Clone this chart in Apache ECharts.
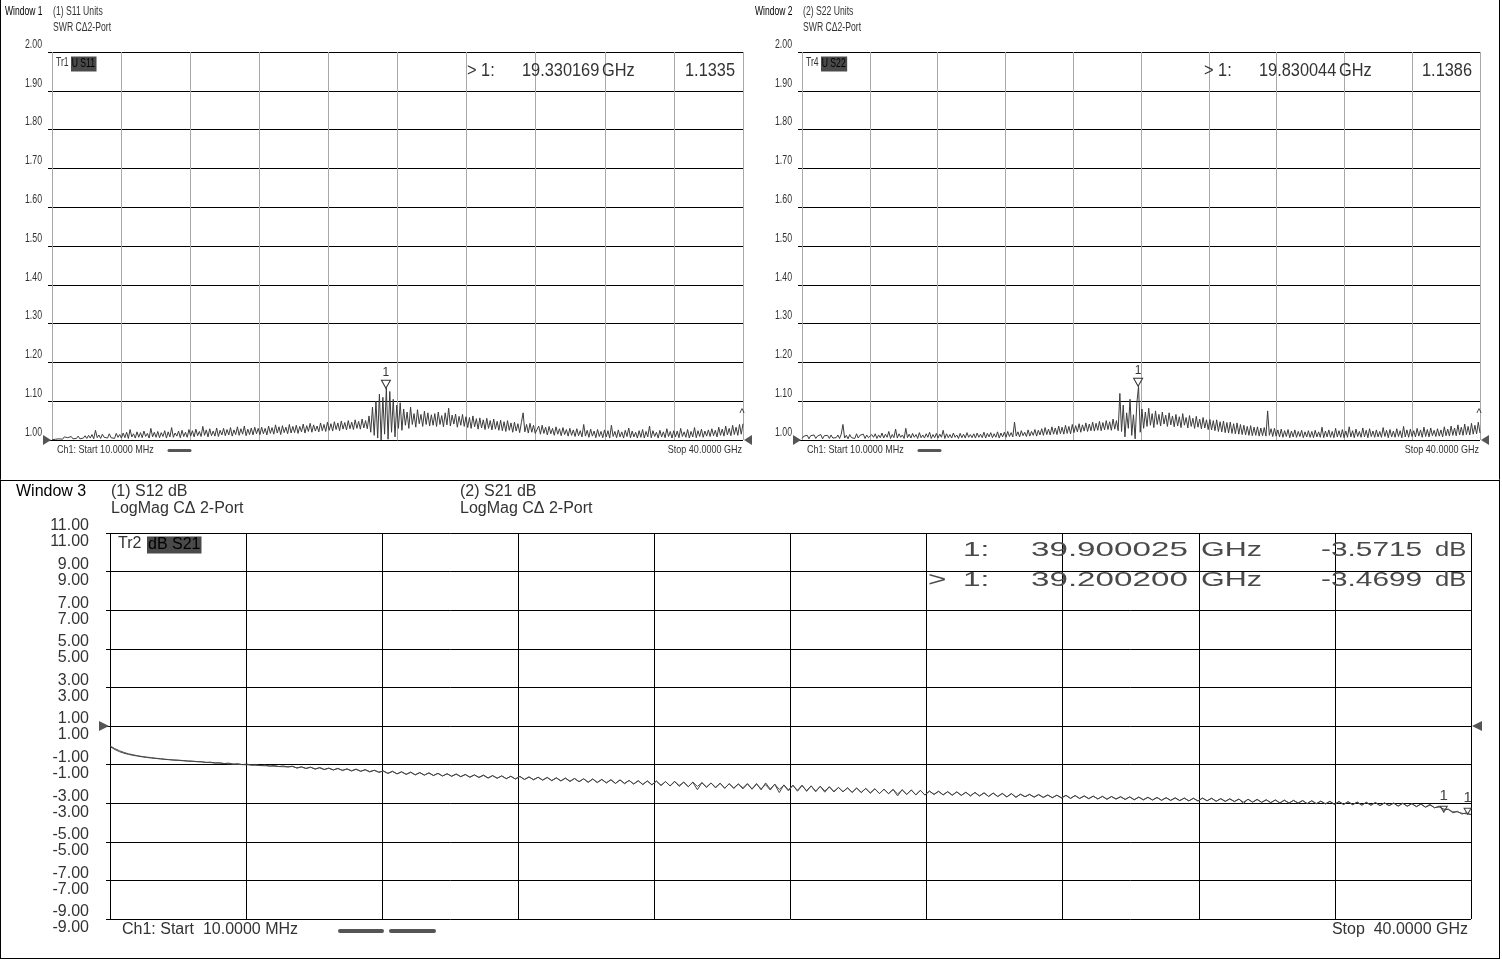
<!DOCTYPE html>
<html><head><meta charset="utf-8">
<script src="https://cdn.jsdelivr.net/npm/echarts@6/dist/echarts.min.js"></script>
<style>html,body{margin:0;padding:0;background:#fff}#c{width:1502px;height:960px}</style>
</head><body><div id="c"></div>
<script>
const FREQ_START_GHZ = 0.01;
const FREQ_STOP_GHZ = 40;

// Window 1: S11 SWR (20 points per 2 GHz row)
const s11Swr = [
1.001,1.006,1.002,1.007,1.003,1.005,1.002,1.008,1.003,1.006,1.004,1.009,1.003,1.007,1.004,1.010,1.003,1.008,1.005,1.011,
1.004,1.012,1.005,1.014,1.003,1.025,1.006,1.013,1.004,1.015,1.007,1.012,1.005,1.016,1.006,1.011,1.004,1.017,1.007,1.014,
1.005,1.018,1.006,1.020,1.004,1.027,1.008,1.016,1.005,1.021,1.007,1.019,1.006,1.023,1.009,1.017,1.005,1.030,1.008,1.020,
1.007,1.022,1.006,1.019,1.009,1.024,1.005,1.021,1.008,1.032,1.007,1.018,1.010,1.023,1.006,1.025,1.009,1.020,1.007,1.027,
1.010,1.024,1.008,1.028,1.011,1.022,1.009,1.035,1.012,1.026,1.008,1.029,1.011,1.023,1.010,1.031,1.009,1.025,1.013,1.030,
1.011,1.027,1.013,1.032,1.010,1.026,1.014,1.034,1.012,1.029,1.015,1.036,1.011,1.028,1.014,1.031,1.013,1.033,1.016,1.030,
1.014,1.033,1.016,1.030,1.013,1.036,1.017,1.032,1.015,1.039,1.018,1.034,1.014,1.037,1.019,1.033,1.016,1.040,1.018,1.035,
1.019,1.038,1.017,1.035,1.021,1.041,1.018,1.037,1.022,1.043,1.020,1.039,1.023,1.036,1.021,1.044,1.024,1.040,1.022,1.046,
1.025,1.042,1.023,1.047,1.027,1.044,1.024,1.049,1.028,1.045,1.026,1.050,1.029,1.046,1.027,1.052,1.030,1.048,1.028,1.054,
1.031,1.050,1.029,1.062,1.020,1.085,1.012,1.100,1.005,1.118,1.000,1.110,1.015,1.134,1.002,1.125,1.020,1.105,1.008,1.090,
1.030,1.096,1.025,1.080,1.038,1.072,1.030,1.085,1.040,1.068,1.033,1.078,1.042,1.066,1.035,1.074,1.040,1.070,1.036,1.065,
1.038,1.068,1.035,1.072,1.040,1.063,1.034,1.070,1.039,1.082,1.036,1.064,1.041,1.067,1.033,1.061,1.038,1.066,1.035,1.060,
1.032,1.058,1.030,1.062,1.034,1.055,1.028,1.057,1.031,1.052,1.027,1.056,1.030,1.050,1.026,1.054,1.028,1.048,1.025,1.051,
1.024,1.047,1.022,1.050,1.025,1.044,1.020,1.046,1.023,1.042,1.019,1.045,1.070,1.021,1.040,1.018,1.043,1.020,1.038,1.017,
1.019,1.036,1.015,1.038,1.017,1.033,1.013,1.035,1.016,1.030,1.012,1.034,1.015,1.029,1.011,1.032,1.014,1.027,1.010,1.030,
1.012,1.026,1.009,1.029,1.011,1.024,1.008,1.040,1.010,1.025,1.007,1.028,1.010,1.023,1.006,1.027,1.009,1.022,1.006,1.026,
1.008,1.024,1.005,1.038,1.009,1.022,1.006,1.026,1.008,1.021,1.005,1.025,1.009,1.031,1.006,1.023,1.008,1.020,1.005,1.024,
1.007,1.027,1.005,1.022,1.008,1.036,1.006,1.024,1.009,1.020,1.005,1.025,1.008,1.021,1.006,1.029,1.009,1.022,1.005,1.024,
1.008,1.023,1.006,1.030,1.009,1.021,1.007,1.027,1.005,1.022,1.008,1.032,1.006,1.024,1.009,1.028,1.007,1.023,1.010,1.026,
1.009,1.029,1.011,1.025,1.008,1.033,1.012,1.028,1.010,1.036,1.013,1.030,1.011,1.038,1.014,1.033,1.012,1.040,1.015,1.042
];

// Window 2: S22 SWR
const s22Swr = [
1.004,1.010,1.005,1.012,1.003,1.011,1.006,1.013,1.004,1.010,1.005,1.014,1.003,1.011,1.006,1.012,1.004,1.013,1.005,1.010,
1.006,1.013,1.004,1.015,1.040,1.005,1.012,1.003,1.014,1.006,1.011,1.004,1.016,1.005,1.012,1.007,1.015,1.004,1.013,1.006,
1.005,1.014,1.007,1.016,1.004,1.013,1.006,1.018,1.005,1.015,1.007,1.022,1.004,1.014,1.006,1.028,1.005,1.016,1.007,1.013,
1.004,1.030,1.006,1.015,1.005,1.017,1.007,1.014,1.004,1.019,1.006,1.013,1.005,1.016,1.007,1.020,1.004,1.014,1.006,1.017,
1.005,1.015,1.007,1.025,1.004,1.016,1.006,1.014,1.005,1.018,1.007,1.013,1.004,1.017,1.006,1.015,1.005,1.019,1.007,1.014,
1.006,1.016,1.005,1.018,1.007,1.015,1.006,1.020,1.005,1.017,1.008,1.019,1.006,1.016,1.007,1.021,1.005,1.018,1.008,1.020,
1.007,1.022,1.009,1.019,1.008,1.046,1.010,1.021,1.008,1.024,1.011,1.020,1.009,1.026,1.010,1.022,1.012,1.027,1.010,1.025,
1.013,1.029,1.012,1.032,1.014,1.028,1.013,1.034,1.015,1.031,1.014,1.036,1.016,1.033,1.015,1.038,1.017,1.035,1.016,1.040,
1.019,1.037,1.021,1.042,1.020,1.039,1.023,1.044,1.022,1.041,1.024,1.046,1.023,1.043,1.025,1.048,1.024,1.045,1.026,1.050,
1.027,1.047,1.025,1.054,1.028,1.050,1.024,1.120,1.022,1.090,1.008,1.070,1.030,1.105,1.012,1.065,1.003,1.095,1.138,1.020,
1.080,1.030,1.072,1.035,1.082,1.038,1.068,1.032,1.075,1.040,1.066,1.036,1.072,1.041,1.064,1.035,1.070,1.039,1.062,1.034,
1.066,1.036,1.060,1.032,1.068,1.038,1.058,1.031,1.063,1.035,1.056,1.030,1.061,1.033,1.054,1.029,1.058,1.031,1.052,1.027,
1.053,1.026,1.050,1.024,1.052,1.022,1.047,1.021,1.049,1.019,1.045,1.018,1.046,1.017,1.042,1.016,1.044,1.015,1.040,1.014,
1.038,1.013,1.035,1.012,1.037,1.011,1.033,1.012,1.034,1.010,1.031,1.011,1.032,1.010,1.075,1.012,1.029,1.009,1.030,1.010,
1.026,1.008,1.028,1.007,1.024,1.009,1.027,1.006,1.023,1.008,1.026,1.007,1.022,1.009,1.025,1.006,1.021,1.008,1.024,1.007,
1.022,1.006,1.025,1.008,1.021,1.007,1.033,1.006,1.023,1.008,1.026,1.007,1.022,1.006,1.030,1.008,1.024,1.007,1.027,1.006,
1.023,1.007,1.034,1.008,1.024,1.006,1.028,1.009,1.022,1.007,1.031,1.008,1.025,1.006,1.029,1.009,1.023,1.007,1.026,1.008,
1.022,1.007,1.032,1.009,1.025,1.006,1.027,1.008,1.023,1.007,1.029,1.009,1.024,1.006,1.035,1.008,1.026,1.007,1.028,1.009,
1.024,1.008,1.030,1.010,1.026,1.007,1.033,1.009,1.027,1.008,1.031,1.011,1.025,1.009,1.029,1.010,1.026,1.008,1.034,1.011,
1.028,1.010,1.036,1.012,1.031,1.011,1.039,1.013,1.033,1.012,1.041,1.014,1.035,1.013,1.043,1.015,1.038,1.016,1.046,1.018
];

// Window 3: S21 / S12 dB (20 points per row)
const s21Db = [
-0.08,-0.22,-0.33,-0.41,-0.47,-0.52,-0.56,-0.60,-0.63,-0.66,-0.68,-0.71,-0.73,-0.75,-0.77,-0.78,-0.80,-0.82,-0.83,-0.85,
-0.85,-0.89,-0.87,-0.92,-0.90,-0.95,-0.92,-0.98,-0.95,-1.00,-0.97,-1.03,-1.00,-1.05,-1.02,-1.08,-1.04,-1.10,-1.07,-1.12,
-1.08,-1.18,-1.11,-1.20,-1.13,-1.24,-1.15,-1.25,-1.18,-1.28,-1.19,-1.31,-1.22,-1.32,-1.23,-1.35,-1.26,-1.38,-1.29,-1.40,
-1.33,-1.45,-1.34,-1.48,-1.37,-1.50,-1.39,-1.53,-1.41,-1.55,-1.42,-1.56,-1.45,-1.59,-1.47,-1.61,-1.48,-1.62,-1.51,-1.66,
-1.53,-1.66,-1.54,-1.69,-1.57,-1.71,-1.58,-1.73,-1.60,-1.75,-1.61,-1.77,-1.64,-1.79,-1.65,-1.80,-1.66,-1.84,-1.68,-1.85,
-1.70,-1.86,-1.72,-1.89,-1.73,-1.91,-1.74,-1.93,-1.77,-1.95,-1.78,-1.97,-1.79,-1.99,-1.82,-2.01,-1.83,-2.04,-1.84,-2.05,
-1.85,-2.07,-1.88,-2.10,-1.86,-2.13,-1.90,-2.14,-1.92,-2.30,-1.93,-2.16,-1.95,-2.21,-1.96,-2.23,-1.99,-2.21,-2.00,-2.26,
-2.00,-2.26,-1.98,-2.31,-1.95,-2.27,-2.02,-2.45,-2.05,-2.31,-2.07,-2.38,-2.09,-2.35,-2.10,-2.41,-2.12,-2.37,-2.15,-2.42,
-2.18,-2.40,-2.20,-2.44,-2.21,-2.45,-2.23,-2.48,-2.25,-2.50,-2.27,-2.51,-2.29,-2.62,-2.30,-2.55,-2.31,-2.57,-2.33,-2.58,
-2.37,-2.54,-2.38,-2.57,-2.40,-2.58,-2.41,-2.60,-2.43,-2.62,-2.44,-2.63,-2.46,-2.65,-2.47,-2.66,-2.49,-2.67,-2.50,-2.70,
-2.53,-2.66,-2.54,-2.68,-2.55,-2.70,-2.57,-2.71,-2.58,-2.72,-2.59,-2.75,-2.60,-2.75,-2.62,-2.76,-2.63,-2.78,-2.64,-2.79,
-2.65,-2.78,-2.66,-2.80,-2.67,-2.82,-2.68,-2.82,-2.69,-2.83,-2.70,-2.85,-2.71,-2.85,-2.72,-2.86,-2.73,-2.88,-2.74,-2.88,
-2.73,-2.87,-2.74,-2.90,-2.76,-2.90,-2.77,-2.91,-2.78,-3.02,-2.79,-2.94,-2.80,-2.95,-2.82,-2.97,-2.83,-2.98,-2.84,-2.99,
-2.85,-2.99,-2.86,-3.02,-2.87,-3.02,-2.89,-3.03,-2.90,-3.06,-2.91,-3.06,-2.92,-3.07,-2.94,-3.10,-2.95,-3.10,-2.96,-3.12,
-2.98,-3.12,-2.99,-3.15,-3.00,-3.15,-3.02,-3.17,-3.04,-3.20,-3.06,-3.24,-3.15,-3.36,-3.30,-3.50,-3.42,-3.56,-3.50,-3.60
];
const s12Db = [
-0.04,-0.17,-0.28,-0.37,-0.44,-0.49,-0.54,-0.58,-0.61,-0.64,-0.67,-0.69,-0.72,-0.74,-0.76,-0.77,-0.79,-0.81,-0.82,-0.84,
-0.86,-0.88,-0.90,-0.91,-0.93,-0.94,-0.96,-0.97,-0.99,-1.00,-1.01,-1.02,-1.04,-1.05,-1.06,-1.07,-1.09,-1.10,-1.11,-1.12,
-1.10,-1.17,-1.13,-1.20,-1.14,-1.22,-1.17,-1.26,-1.19,-1.27,-1.21,-1.29,-1.23,-1.33,-1.25,-1.34,-1.27,-1.36,-1.30,-1.39,
-1.34,-1.46,-1.36,-1.48,-1.38,-1.51,-1.40,-1.53,-1.42,-1.54,-1.44,-1.57,-1.46,-1.59,-1.48,-1.60,-1.50,-1.63,-1.52,-1.64,
-1.54,-1.67,-1.56,-1.70,-1.57,-1.70,-1.59,-1.73,-1.61,-1.74,-1.62,-1.77,-1.64,-1.78,-1.66,-1.81,-1.67,-1.82,-1.69,-1.84,
-1.70,-1.88,-1.72,-1.88,-1.74,-1.92,-1.75,-1.92,-1.77,-1.94,-1.79,-1.98,-1.80,-1.97,-1.82,-2.00,-1.84,-2.02,-1.86,-2.04,
-1.86,-2.09,-1.88,-2.11,-1.89,-2.08,-1.92,-2.15,-1.90,-2.13,-1.94,-2.19,-1.96,-2.17,-1.97,-2.22,-1.99,-2.24,-2.01,-2.20,
-1.98,-2.28,-2.02,-2.25,-2.04,-2.32,-2.01,-2.29,-2.07,-2.36,-2.08,-2.33,-2.06,-2.39,-2.11,-2.37,-2.13,-2.43,-2.15,-2.39,
-2.19,-2.41,-2.21,-2.44,-2.22,-2.44,-2.24,-2.47,-2.26,-2.50,-2.28,-2.50,-2.29,-2.52,-2.31,-2.54,-2.32,-2.57,-2.34,-2.57,
-2.38,-2.55,-2.39,-2.57,-2.41,-2.59,-2.42,-2.59,-2.44,-2.62,-2.45,-2.62,-2.47,-2.65,-2.48,-2.65,-2.50,-2.68,-2.51,-2.68,
-2.54,-2.67,-2.55,-2.69,-2.56,-2.70,-2.58,-2.72,-2.59,-2.73,-2.60,-2.75,-2.61,-2.76,-2.63,-2.77,-2.64,-2.78,-2.65,-2.80,
-2.66,-2.79,-2.67,-2.81,-2.68,-2.82,-2.69,-2.83,-2.70,-2.84,-2.71,-2.85,-2.72,-2.86,-2.73,-2.87,-2.74,-2.88,-2.75,-2.89,
-2.74,-2.88,-2.75,-2.90,-2.77,-2.91,-2.78,-2.92,-2.79,-2.94,-2.80,-2.95,-2.81,-2.96,-2.83,-2.97,-2.84,-2.99,-2.85,-3.00,
-2.86,-3.00,-2.87,-3.02,-2.88,-3.03,-2.90,-3.04,-2.91,-3.06,-2.92,-3.07,-2.93,-3.08,-2.95,-3.10,-2.96,-3.11,-2.97,-3.13,
-2.99,-3.13,-3.00,-3.15,-3.01,-3.16,-3.03,-3.18,-3.05,-3.21,-3.10,-3.23,-3.20,-3.30,-3.33,-3.44,-3.45,-3.52,-3.55,-3.58
];

const swrTickLabels = ['2.00','1.90','1.80','1.70','1.60','1.50','1.40','1.30','1.20','1.10','1.00'];
const dbTickLabels = ['11.00','9.00','7.00','5.00','3.00','1.00','-1.00','-3.00','-5.00','-7.00','-9.00'];

const s11Marker = { freq: 19.330169, value: 1.1335, freqText: '19.330169', valText: '1.1335' };
const s22Marker = { freq: 19.830044, value: 1.1386, freqText: '19.830044', valText: '1.1386' };
const s12Marker = { freq: 39.900025, value: -3.5715, freqText: '39.900025', valText: '-3.5715' };
const s21Marker = { freq: 39.200200, value: -3.4699, freqText: '39.200200', valText: '-3.4699' };

function pairs(arr) {
  const step = (FREQ_STOP_GHZ - FREQ_START_GHZ) / (arr.length - 1);
  return arr.map((v, i) => [FREQ_START_GHZ + i * step, v]);
}

const SANS = "'Liberation Sans', Arial, sans-serif";
const swrMin = parseFloat(swrTickLabels[swrTickLabels.length - 1]);
const swrMax = parseFloat(swrTickLabels[0]);
const dbMin = parseFloat(dbTickLabels[dbTickLabels.length - 1]);
const dbMax = parseFloat(dbTickLabels[0]);

function xAx(gridIndex, gridColor) {
  return { type: 'value', gridIndex, min: 0, max: FREQ_STOP_GHZ, interval: 4,
    axisLine: { show: false }, axisTick: { show: false }, axisLabel: { show: false },
    splitLine: { show: true, lineStyle: { color: gridColor, width: 1 } } };
}
function yAxSwr(gridIndex) {
  return { type: 'value', gridIndex, min: swrMin, max: swrMax, interval: 0.1,
    axisLine: { show: false }, axisTick: { show: true, length: 4, lineStyle: { color: '#000' } },
    axisLabel: { show: false },
    splitLine: { show: true, lineStyle: { color: '#000', width: 1 } } };
}

function swrMarkPoint(m) {
  return { symbol: 'triangle', symbolSize: [9, 8], symbolRotate: 180, symbolOffset: [0, -4],
    itemStyle: { color: '#fff', borderColor: '#333', borderWidth: 1 },
    label: { show: true, formatter: '1', position: 'top', distance: 1, color: '#333', fontSize: 12, fontFamily: SANS },
    data: [{ coord: [m.freq, m.value] }] };
}
function dbMarkPoint(m) {
  return { symbol: 'triangle', symbolSize: [7, 6], symbolRotate: 180, symbolOffset: [0, -3],
    itemStyle: { color: 'rgba(0,0,0,0)', borderColor: '#444', borderWidth: 1 },
    label: { show: true, formatter: '1', position: 'top', distance: 2, color: '#444', fontSize: 15, fontFamily: SANS },
    data: [{ coord: [m.freq, m.value] }] };
}

const option = {
  animation: false,
  backgroundColor: '#fff',
  grid: [
    { left: 52, top: 52, width: 691, height: 388, containLabel: false, outerBoundsMode: 'none' },
    { left: 802, top: 52, width: 678, height: 388, containLabel: false, outerBoundsMode: 'none' },
    { left: 110, top: 533, width: 1361, height: 386, containLabel: false, outerBoundsMode: 'none' }
  ],
  xAxis: [ xAx(0, '#a8a8a8'), xAx(1, '#a8a8a8'), xAx(2, '#000') ],
  yAxis: [
    yAxSwr(0), yAxSwr(1),
    { type: 'value', gridIndex: 2, min: dbMin, max: dbMax, interval: 2,
      axisLine: { show: false }, axisTick: { show: true, length: 4, lineStyle: { color: '#000' } },
      axisLabel: { show: true, margin: 21, fontSize: 16, lineHeight: 14, fontFamily: SANS, color: '#333',
        verticalAlign: 'bottom', formatter: v => v.toFixed(2) },
      splitLine: { show: true, lineStyle: { color: '#000', width: 1 } } },
    { type: 'value', gridIndex: 2, min: dbMin, max: dbMax, interval: 2, position: 'left',
      axisLine: { show: false }, axisTick: { show: false },
      axisLabel: { show: true, margin: 21, fontSize: 16, lineHeight: 14, fontFamily: SANS, color: '#333',
        verticalAlign: 'top', padding: [2, 0, 0, 0], formatter: v => v.toFixed(2) },
      splitLine: { show: false } }
  ],
  series: [
    { name: 'S11', type: 'line', xAxisIndex: 0, yAxisIndex: 0, data: pairs(s11Swr), showSymbol: false,
      lineStyle: { color: '#3c3c3c', width: 1 }, markPoint: swrMarkPoint(s11Marker) },
    { name: 'S22', type: 'line', xAxisIndex: 1, yAxisIndex: 1, data: pairs(s22Swr), showSymbol: false,
      lineStyle: { color: '#3c3c3c', width: 1 }, markPoint: swrMarkPoint(s22Marker) },
    { name: 'S12', type: 'line', xAxisIndex: 2, yAxisIndex: 2, data: pairs(s12Db), showSymbol: false,
      lineStyle: { color: '#555', width: 1 }, markPoint: dbMarkPoint(s12Marker) },
    { name: 'S21', type: 'line', xAxisIndex: 2, yAxisIndex: 2, data: pairs(s21Db), showSymbol: false,
      lineStyle: { color: '#444', width: 1 }, markPoint: dbMarkPoint(s21Marker) }
  ]
};

const chart = echarts.init(document.getElementById('c'), null, { renderer: 'canvas' });
chart.setOption(option);

// ---------- decorations (text, frames) ----------
function T(x, y, text, size, o) {
  o = o || {};
  return { type: 'text', x, y, scaleX: o.sx || 1, silent: true, z: 100,
    style: { text, x: 0, y: 0, fill: o.color || '#333', fontSize: size, fontFamily: SANS,
      fontWeight: o.weight || 'normal', align: o.align || 'left', verticalAlign: 'middle',
      backgroundColor: o.bg, padding: o.pad } };
}
function L(x1, y1, x2, y2, color, w, cap) {
  return { type: 'line', silent: true, z: 90, shape: { x1, y1, x2, y2 },
    style: { stroke: color || '#000', lineWidth: w || 1, lineCap: cap || 'butt' } };
}
function P(points, color) {
  return { type: 'polygon', silent: true, z: 95, shape: { points }, style: { fill: color || '#444' } };
}
const px = (g, x, y) => chart.convertToPixel({ xAxisIndex: g, yAxisIndex: g }, [x, y]);

const els = [];
els.push(L(0.5, 0, 0.5, 959));
els.push(L(1499.5, 0, 1499.5, 959));
els.push(L(0, 480.5, 1500, 480.5));
els.push(L(0, 958.5, 1500, 958.5));

const SX_SMALL = 0.72;
const tops = [
  { g: 0, win: 'Window 1', wx: 5, tx: 53, title: '(1) S11 Units', tr: 'Tr1', tag: 'U S11', m: s11Marker },
  { g: 1, win: 'Window 2', wx: 755, tx: 803, title: '(2) S22 Units', tr: 'Tr4', tag: 'U S22', m: s22Marker }
];
tops.forEach(w => {
  const gL = px(w.g, 0, swrMin)[0], gR = px(w.g, FREQ_STOP_GHZ, swrMin)[0];
  const yBase = px(w.g, 0, swrMin)[1];
  els.push(T(w.wx, 12, w.win, 12, { sx: 0.71, color: '#000' }));
  els.push(T(w.tx, 12, w.title, 12, { sx: SX_SMALL }));
  els.push(T(w.tx, 28, 'SWR C\u03942-Port', 12, { sx: SX_SMALL }));
  swrTickLabels.forEach(l => {
    const y = px(w.g, 0, parseFloat(l))[1];
    els.push(T(gL - 10, y - 7.5, l, 12, { sx: 0.73, align: 'right' }));
  });
  els.push(T(gL + 4, 63, w.tr, 12, { sx: SX_SMALL }));
  els.push(T(gL + 19, 64, w.tag, 12, { sx: SX_SMALL, color: '#000', bg: '#4a4a4a', pad: [2, 2, 1, 1] }));
  els.push(T(gR - 276, 71, '> 1:', 19, { sx: 0.86 }));
  els.push(T(gR - 221, 71, w.m.freqText, 19, { sx: 0.86 }));
  els.push(T(gR - 141, 71, 'GHz', 19, { sx: 0.86 }));
  els.push(T(gR - 8, 71, w.m.valText, 19, { sx: 0.86, align: 'right' }));
  els.push(T(gL + 5, 450, 'Ch1: Start 10.0000 MHz', 11, { sx: 0.82 }));
  els.push(L(gL + 117, 450.5, gL + 138, 450.5, '#555', 3, 'round'));
  els.push(T(gR - 1, 450, 'Stop 40.0000 GHz', 11, { sx: 0.82, align: 'right' }));
  els.push(P([[gL - 9, yBase - 5], [gL - 1, yBase], [gL - 9, yBase + 5]], '#555'));
  els.push(P([[gR + 9, yBase - 5], [gR + 1, yBase], [gR + 9, yBase + 5]], '#555'));
  els.push(T(gR - 1, 414, '^', 12, { sx: 0.9, align: 'center' }));
});

{
  const gL = px(2, 0, 1)[0], gR = px(2, FREQ_STOP_GHZ, 1)[0];
  const yRef = px(2, 0, 1)[1];
  els.push(T(16, 492, 'Window 3', 16, { color: '#000' }));
  els.push(T(111, 492, '(1) S12 dB', 16));
  els.push(T(111, 509, 'LogMag C\u0394 2-Port', 16));
  els.push(T(460, 492, '(2) S21 dB', 16));
  els.push(T(460, 509, 'LogMag C\u0394 2-Port', 16));
  els.push(T(gL + 8, 544, 'Tr2', 16));
  els.push(T(gL + 37, 545, 'dB S21', 16, { color: '#000', bg: '#4a4a4a', pad: [1, 1, 0, 1] }));
  const RC = '#4a4a4a', RS = 21;
  [[550, s12Marker, false], [580, s21Marker, true]].forEach(([y, m, active]) => {
    if (active) els.push(T(928, y, '>', RS, { sx: 1.5, color: RC }));
    els.push(T(963, y, '1:', RS, { sx: 1.5, color: RC }));
    els.push(T(1031, y, m.freqText, RS, { sx: 1.58, color: RC }));
    els.push(T(1201, y, 'GHz', RS, { sx: 1.45, color: RC }));
    els.push(T(1321, y, m.valText, RS, { sx: 1.42, color: RC }));
    els.push(T(1435, y, 'dB', RS, { sx: 1.22, color: RC }));
  });
  els.push(T(gL + 12, 930, 'Ch1: Start  10.0000 MHz', 16));
  els.push(L(gL + 230, 931, gL + 272, 931, '#555', 4, 'round'));
  els.push(L(gL + 281, 931, gL + 324, 931, '#555', 4, 'round'));
  els.push(T(gR - 3, 930, 'Stop  40.0000 GHz', 16, { align: 'right' }));
  els.push(P([[gL - 11, yRef - 5], [gL - 1, yRef], [gL - 11, yRef + 5]], '#555'));
  els.push(P([[gR + 11, yRef - 5], [gR + 1, yRef], [gR + 11, yRef + 5]], '#555'));
}

chart.setOption({ graphic: { elements: els } });
</script>
</body></html>
